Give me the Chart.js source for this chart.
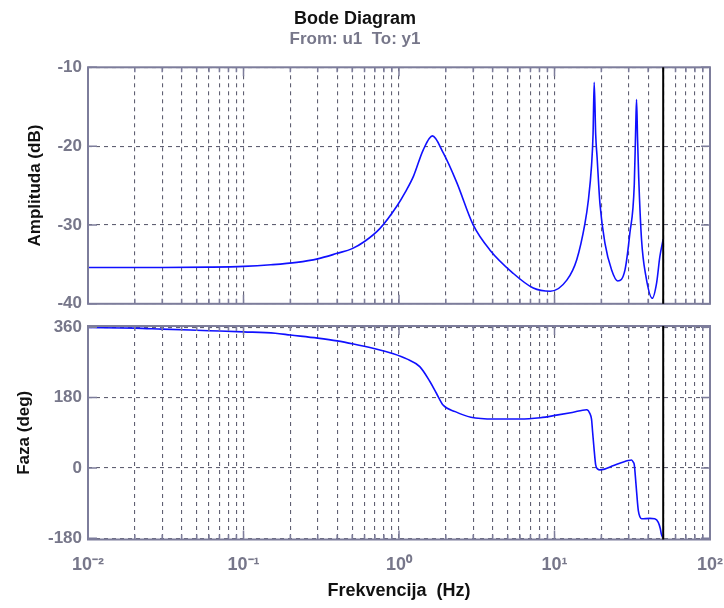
<!DOCTYPE html>
<html lang="en">
<head>
  <meta charset="UTF-8">
  <title>Bode Diagram</title>
  <style>
    body {
      margin: 0;
      background: #fff;
    }
    .bode {
      position: relative;
      width: 724px;
      height: 608px;
    }
    .bode canvas {
      position: absolute;
      left: 0;
    }
    #magChart { top: 0; }
    #phaseChart { top: 306px; }
  </style>
</head>
<body>

  <div class="bode">
    <canvas id="magChart" width="724" height="320"></canvas>
    <canvas id="phaseChart" width="724" height="302"></canvas>
  </div>

  <script src="https://cdn.jsdelivr.net/npm/chart.js"></script>

  <script>
    // Frequency response u1 -> y1
    const magFreq = [0.01, 0.03, 0.06, 0.1, 0.15, 0.22, 0.3, 0.4, 0.5, 0.6,
      0.75, 0.97, 1.1, 1.24, 1.43, 1.64, 1.93, 2.35, 3.0, 3.85,
      5.4, 7.3, 9.4, 12, 13.9, 15.7, 16.5, 17.3, 17.7, 18.0,
      18.4, 18.8, 19.6, 21.1, 23.3, 25.5, 28.4, 30.5, 32.6, 33.3,
      33.7, 34.2, 34.8, 36.3, 38.7, 42.5, 45.4, 47.6, 50];
    const magDb = [-35.4, -35.4, -35.35, -35.25, -35.05, -34.75, -34.3, -33.6, -33.0, -32.1,
      -30.5, -27.6, -25.8, -23.8, -20.5, -18.7, -20.9, -24.6, -30.0, -33.2,
      -36.1, -38.0, -38.4, -37.0, -34.4, -29.8, -26.9, -22.5, -18.5, -11.9,
      -18.5, -21.5, -27.3, -32.3, -35.7, -37.1, -35.7, -31.1, -24.8, -17.5,
      -14.1, -19, -24, -31.9, -36.5, -39.3, -37.3, -34, -31.8];

    const phaseFreq = [0.01, 0.02, 0.03, 0.06, 0.1, 0.16, 0.2, 0.3, 0.4, 0.51,
      0.68, 0.92, 1.12, 1.36, 1.58, 1.74, 1.92, 2.3, 2.9, 4.1,
      6.0, 8.1, 10.3, 13, 16.1, 16.9, 17.3, 17.6, 18.0, 18.4,
      19.0, 19.6, 21, 24, 29.8, 31.3, 32.1, 32.6, 33.4, 34.2,
      34.6, 35.4, 36.3, 41.1, 44.1, 46.5, 47.9, 48.7, 50];
    const phaseDeg = [359, 357.5, 355, 351, 348, 344.5, 340, 332, 325, 317,
      306, 292, 279, 259, 221, 191, 161, 144, 129.6, 125,
      125, 128.5, 135, 142, 149, 139, 125, 90, 45, 8,
      -3, -5, -3, 6, 19, 20.5, 15, 8, -40, -90,
      -109, -125, -130, -129, -130, -139, -155, -170, -180];

    const nyquistHz = 50;

    // axis ticks
    const decades = [0.01, 0.1, 1, 10, 100];
    const decadeLabels = ['10⁻²', '10⁻¹', '10⁰', '10¹', '10²'];
    const minorSteps = [2, 3, 4, 5, 6, 7, 8, 9];
    const magTicks = [-40, -30, -20, -10];
    const phaseTicks = [-180, 0, 180, 360];

    // every 1..9 x 10^k gets a grid line
    const xGridValues = [];
    decades.forEach((d, i) => {
      xGridValues.push(d);
      if (i < decades.length - 1) minorSteps.forEach(m => xGridValues.push(d * m));
    });

    const FONT = "'Liberation Sans', Arial, sans-serif";
    const axisColor = '#7d7d9b';
    const tickColor = '#77778a';
    const gridColor = '#606072';
    const gridDash = [4, 4];
    const PLOT_LEFT = 88;

    function xAxis(showLabels) {
      return {
        type: 'logarithmic',
        min: 0.01,
        max: 100,
        afterBuildTicks(scale) {
          scale.ticks = xGridValues.map(v => ({ value: v }));
        },
        afterFit(scale) {
          scale.height = showLabels ? 68.5 : 0;
          // keep both plots the same width, labels may hang over
          scale.paddingLeft = 0;
          scale.paddingRight = 0;
        },
        grid: { color: gridColor, lineWidth: 1.1, drawTicks: false },
        border: { display: false, dash: gridDash },
        ticks: {
          display: showLabels,
          autoSkip: false,
          maxRotation: 0,
          padding: 15,
          color: tickColor,
          font: { family: FONT, size: 18, weight: 'bold' },
          callback(value) {
            const i = decades.indexOf(value);
            return i >= 0 ? decadeLabels[i] : '';
          }
        },
        title: {
          display: showLabels,
          text: 'Frekvencija  (Hz)',
          color: '#111',
          font: { family: FONT, size: 18, weight: 'bold' },
          padding: { top: 0, bottom: 5.7 }
        }
      };
    }

    function yAxis(min, max, tickValues, label, labelPad) {
      return {
        min: min,
        max: max,
        afterBuildTicks(scale) {
          scale.ticks = tickValues.map(v => ({ value: v }));
        },
        afterFit(scale) {
          scale.width = PLOT_LEFT;
        },
        grid: { color: gridColor, lineWidth: 1.1, drawTicks: false },
        border: { display: false, dash: gridDash },
        ticks: {
          padding: 6,
          color: tickColor,
          font: { family: FONT, size: 17, weight: 'bold' }
        },
        title: {
          display: true,
          text: label,
          color: '#111',
          font: { family: FONT, size: 17, weight: 'bold' },
          padding: { top: labelPad, bottom: 0 }
        }
      };
    }

    // box, inner tick marks and the 50 Hz marker
    const bodeFrame = {
      id: 'bodeFrame',
      afterDraw(chart) {
        const { ctx, chartArea: a, scales: { x, y } } = chart;
        ctx.save();
        ctx.strokeStyle = axisColor;
        ctx.lineWidth = 1.5;
        ctx.beginPath();
        x.ticks.forEach(t => {
          const px = x.getPixelForValue(t.value);
          const len = decades.includes(t.value) ? 9 : 5;
          ctx.moveTo(px, a.bottom);
          ctx.lineTo(px, a.bottom - len);
          ctx.moveTo(px, a.top);
          ctx.lineTo(px, a.top + len);
        });
        y.ticks.forEach(t => {
          const py = y.getPixelForValue(t.value);
          ctx.moveTo(a.left, py);
          ctx.lineTo(a.left + 9, py);
          ctx.moveTo(a.right, py);
          ctx.lineTo(a.right - 9, py);
        });
        ctx.stroke();
        ctx.lineWidth = 2;
        ctx.strokeRect(a.left, a.top, a.right - a.left, a.bottom - a.top);

        const nx = x.getPixelForValue(nyquistHz);
        ctx.strokeStyle = '#000';
        ctx.lineWidth = 2;
        ctx.beginPath();
        ctx.moveTo(nx, a.top);
        ctx.lineTo(nx, a.bottom);
        ctx.stroke();
        ctx.restore();
      }
    };

    function curve(freqs, values) {
      return {
        data: freqs.map((f, i) => ({ x: f, y: values[i] })),
        borderColor: '#1010ff',
        borderWidth: 1.6,
        pointRadius: 0,
        cubicInterpolationMode: 'monotone',
        fill: false
      };
    }

    // Amplitude
    new Chart(document.getElementById('magChart'), {
      type: 'line',
      data: { datasets: [curve(magFreq, magDb)] },
      options: {
        responsive: false,
        animation: false,
        layout: { padding: { top: 0, left: 0, right: 14, bottom: 12 } },
        scales: {
          x: xAxis(false),
          y: yAxis(-40, -10, magTicks, 'Amplituda (dB)', 25)
        },
        plugins: {
          legend: { display: false },
          tooltip: { enabled: false },
          title: {
            display: true,
            text: 'Bode Diagram',
            color: '#111',
            font: { family: FONT, size: 18, weight: 'bold' },
            padding: { top: 8, bottom: 0 }
          },
          subtitle: {
            display: true,
            text: 'From: u1  To: y1',
            color: tickColor,
            font: { family: FONT, size: 17, weight: 'bold' },
            padding: { top: 0, bottom: 17.3 }
          }
        }
      },
      plugins: [bodeFrame]
    });

    // Phase
    new Chart(document.getElementById('phaseChart'), {
      type: 'line',
      data: { datasets: [curve(phaseFreq, phaseDeg)] },
      options: {
        responsive: false,
        animation: false,
        layout: { padding: { top: 20, left: 0, right: 14, bottom: 0 } },
        scales: {
          x: xAxis(true),
          y: yAxis(-183, 363, phaseTicks, 'Faza (deg)', 14)
        },
        plugins: {
          legend: { display: false },
          tooltip: { enabled: false }
        }
      },
      plugins: [bodeFrame]
    });
  </script>

</body>
</html>
